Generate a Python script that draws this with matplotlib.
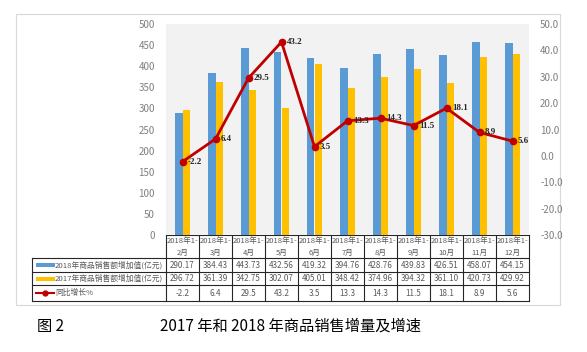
import matplotlib.pyplot as plt
from matplotlib.patches import Rectangle
from matplotlib.lines import Line2D

plt.rcParams['font.family'] = ['Noto Sans CJK SC', 'DejaVu Sans']

# --- data ---------------------------------------------------------------------
months = ["2月", "3月", "4月", "5月", "6月", "7月", "8月", "9月", "10月", "11月", "12月"]
sales_2018 = [290.17, 384.43, 443.73, 432.56, 419.32, 394.76, 428.76, 439.83, 426.51, 458.07, 454.15]
sales_2017 = [296.72, 361.39, 342.75, 302.07, 405.01, 348.42, 374.96, 394.32, 361.10, 420.73, 429.92]
growth = [-2.2, 6.4, 29.5, 43.2, 3.5, 13.3, 14.3, 11.5, 18.1, 8.9, 5.6]

name_2018 = "2018年商品销售额增加值(亿元)"
name_2017 = "2017年商品销售额增加值(亿元)"
name_growth = "同比增长%"

c_blue = '#5B9BD5'
c_orange = '#FFC000'
c_red = '#C00000'
c_text = '#595959'

W, H = 587, 352
fig = plt.figure(figsize=(W / 100, H / 100), dpi=100)

# overlay in pixel coords for frame, table and caption
ov = fig.add_axes([0, 0, 1, 1])
ov.set_xlim(0, W)
ov.set_ylim(H, 0)
ov.axis('off')

# --- plot area ----------------------------------------------------------------
px_l, px_r, px_t, px_b = 166, 529, 24, 235
ax = fig.add_axes([px_l / W, 1 - px_b / H, (px_r - px_l) / W, (px_b - px_t) / H])
ax.set_facecolor('#F2F2F2')
n = len(months)
xs = list(range(n))
bw = 0.23
ax.bar([x - bw / 2 for x in xs], sales_2018, bw, color=c_blue, zorder=2)
ax.bar([x + bw / 2 for x in xs], sales_2017, bw, color=c_orange, zorder=2)
ax.set_xlim(-0.5, n - 0.5)
ax.set_ylim(0, 500)
ax.set_yticks(range(0, 501, 50))
ax.set_xticks([])
for s in ax.spines.values():
    s.set_visible(False)
ax.tick_params(axis='y', length=0, labelsize=7, labelcolor='#7F7F7F', pad=8)

ax2 = ax.twinx()
ax2.plot(xs, growth, color=c_red, lw=2, marker='o', ms=4.5, zorder=3)
ax2.set_ylim(-30, 50)
ax2.set_yticks(range(-30, 51, 10))
ax2.set_yticklabels([f"{v:.1f}" for v in range(-30, 51, 10)])
for s in ax2.spines.values():
    s.set_visible(False)
ax2.tick_params(axis='y', length=0, labelsize=7, labelcolor='#7F7F7F', pad=8)
for x, g in zip(xs, growth):
    ax2.annotate(f"{g}", (x, g), xytext=(4, 0), textcoords='offset points',
                 ha='left', va='center', fontsize=6.5, fontweight='bold',
                 family='Liberation Serif', color='#262626', zorder=4)

# --- outer frame --------------------------------------------------------------
ov.add_patch(Rectangle((16, 14), 544, 291, fill=False, ec='#D9D9D9', lw=0.8))

# --- data table ---------------------------------------------------------------
cw = (px_r - px_l) / n
rows_y = [235, 258, 272, 285, 301]
lc = dict(color='#262626', lw=0.8)
# header row (category cells only)
ov.plot([px_l, px_r], [rows_y[0], rows_y[0]], **lc)
for i in range(n + 1):
    xx = px_l + i * cw
    ov.plot([xx, xx], [rows_y[0], rows_y[-1]], **lc)
for yy in rows_y[1:]:
    ov.plot([32, px_r], [yy, yy], **lc)
ov.plot([32, 32], [rows_y[1], rows_y[-1]], **lc)

for i, m in enumerate(months):
    cx = px_l + (i + 0.5) * cw
    ov.text(cx, (rows_y[0] + rows_y[1]) / 2 + 0.5, "2018年1-\n" + m, ha='center', va='center',
            fontsize=5.5, color=c_text, linespacing=1.6)
    for r, vals, fmt in [(1, sales_2018, "{:.2f}"), (2, sales_2017, "{:.2f}"), (3, growth, "{}")]:
        ov.text(cx, (rows_y[r] + rows_y[r + 1]) / 2, fmt.format(vals[i]), ha='center', va='center',
                fontsize=5.8, color=c_text)

# legend keys inside the table
for r, name, col in [(1, name_2018, c_blue), (2, name_2017, c_orange)]:
    ym = (rows_y[r] + rows_y[r + 1]) / 2
    ov.add_patch(Rectangle((36, ym - 2), 19, 4, color=col, lw=0))
    ov.text(55, ym, name, ha='left', va='center', fontsize=5.6, color=c_text)
ym = (rows_y[3] + rows_y[4]) / 2
ov.add_line(Line2D([36, 54], [ym, ym], color=c_red, lw=1.5))
ov.plot([45], [ym], 'o', color=c_red, ms=3.5)
ov.text(55, ym, name_growth, ha='left', va='center', fontsize=5.6, color=c_text)

# --- caption ------------------------------------------------------------------
ov.text(37, 326, "图 2", ha='left', va='center', fontsize=11, color='black')
ov.text(160, 326, "2017 年和 2018 年商品销售增量及增速", ha='left', va='center', fontsize=11, color='black')

fig.savefig("out.png", dpi=100)
